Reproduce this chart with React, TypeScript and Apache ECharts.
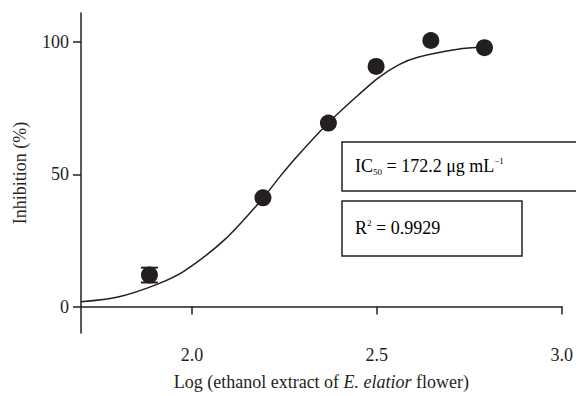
import React, { useEffect, useRef } from "react";
import * as echarts from "echarts";

const pointX = [1.885, 2.192, 2.369, 2.498, 2.646, 2.791];
const pointY = [11.9, 41.1, 69.4, 90.8, 100.6, 97.9];
const errorLow = [9.1, 41.1, 69.4, 90.8, 100.6, 97.9];
const errorHigh = [14.7, 41.1, 69.4, 90.8, 100.6, 97.9];

const curveX = [1.70, 1.80, 1.907, 1.98, 2.09, 2.192, 2.24, 2.289, 2.369, 2.45, 2.504, 2.56, 2.611, 2.719, 2.791];
const curveY = [1.8, 3.6, 8.5, 13.5, 25.5, 41.0, 49.5, 57.5, 69.5, 80.0, 86.5, 91.5, 94.3, 97.3, 98.1];

const xTicks = [2.0, 2.5, 3.0];
const yTicks = [0, 50, 100];

const FONT = "Liberation Serif";
const INK = "#231f20";
const FS = 18;

export default function App() {
  const ref = useRef<HTMLDivElement>(null);
  useEffect(() => {
    if (!ref.current) return;
    const chart = echarts.init(ref.current, undefined, { renderer: "svg" });
    const errData = pointX
      .map((x, i) => [x, errorLow[i], errorHigh[i]])
      .filter((d) => d[2] - d[1] > 0.01);
    chart.setOption({
      animation: false,
      backgroundColor: "#ffffff",
      textStyle: { fontFamily: FONT },
      grid: { left: 81, right: 12, top: 13, bottom: 62, containLabel: false },
      xAxis: {
        type: "value",
        min: 1.7,
        max: 3.0,
        name: "Log (ethanol extract of {i|E. elatior} flower)",
        nameLocation: "middle",
        nameGap: 40,
        nameTextStyle: {
          fontFamily: FONT,
          fontSize: FS,
          color: INK,
          rich: { i: { fontFamily: FONT, fontSize: FS, fontStyle: "italic", color: INK } },
        },
        axisLine: { show: true, lineStyle: { color: INK, width: 1.5 } },
        axisTick: { show: true, length: 8, customValues: xTicks, lineStyle: { color: INK, width: 1.5 } },
        axisLabel: {
          customValues: xTicks,
          margin: 13,
          fontFamily: FONT,
          fontSize: FS,
          color: INK,
          formatter: (v: number) => v.toFixed(1),
        },
        splitLine: { show: false },
      },
      yAxis: {
        type: "value",
        min: -10,
        max: 111,
        name: "Inhibition (%)",
        nameLocation: "middle",
        nameGap: 52,
        nameTextStyle: { fontFamily: FONT, fontSize: FS, color: INK },
        axisLine: { show: true, lineStyle: { color: INK, width: 1.5 } },
        axisTick: { show: true, length: 8, customValues: yTicks, lineStyle: { color: INK, width: 1.5 } },
        axisLabel: { customValues: yTicks, margin: 12, fontFamily: FONT, fontSize: FS, color: INK },
        splitLine: { show: false },
      },
      series: [
        {
          type: "line",
          data: curveX.map((x, i) => [x, curveY[i]]),
          smooth: 0.3,
          symbol: "none",
          lineStyle: { color: INK, width: 1.5 },
          z: 2,
        },
        {
          type: "custom",
          data: errData,
          z: 3,
          renderItem: (params: any, api: any) => {
            const x = api.value(0);
            const lo = api.coord([x, api.value(1)]);
            const hi = api.coord([x, api.value(2)]);
            const hw = 8.5;
            const st = { stroke: INK, lineWidth: 2 };
            return {
              type: "group",
              children: [
                { type: "line", shape: { x1: lo[0], y1: lo[1], x2: hi[0], y2: hi[1] }, style: st },
                { type: "line", shape: { x1: lo[0] - hw, y1: lo[1], x2: lo[0] + hw, y2: lo[1] }, style: st },
                { type: "line", shape: { x1: hi[0] - hw, y1: hi[1], x2: hi[0] + hw, y2: hi[1] }, style: st },
              ],
            };
          },
        },
        {
          type: "scatter",
          data: pointX.map((x, i) => [x, pointY[i]]),
          symbol: "circle",
          symbolSize: 17,
          itemStyle: { color: INK, opacity: 1 },
          z: 4,
        },
      ],
      graphic: [
        {
          type: "rect",
          shape: { x: 342, y: 142, width: 250, height: 49 },
          style: { fill: "#ffffff", stroke: INK, lineWidth: 1.5 },
          z: 10,
        },
        {
          type: "text",
          x: 355,
          y: 166,
          z: 11,
          style: {
            text: "{m|IC}{s|50}{m| = 172.2 μg mL}{p|−1}",
            verticalAlign: "middle",
            rich: {
              m: { fontFamily: FONT, fontSize: FS, color: INK, lineHeight: 20 },
              s: { fontFamily: FONT, fontSize: 9, color: INK, verticalAlign: "bottom", lineHeight: 20 },
              p: { fontFamily: FONT, fontSize: 9, color: INK, verticalAlign: "top", lineHeight: 20 },
            },
          },
        },
        {
          type: "rect",
          shape: { x: 342, y: 201, width: 180, height: 55 },
          style: { fill: "#ffffff", stroke: INK, lineWidth: 1.5 },
          z: 10,
        },
        {
          type: "text",
          x: 355,
          y: 228,
          z: 11,
          style: {
            text: "{m|R}{p|2}{m| = 0.9929}",
            verticalAlign: "middle",
            rich: {
              m: { fontFamily: FONT, fontSize: FS, color: INK, lineHeight: 20 },
              p: { fontFamily: FONT, fontSize: 9, color: INK, verticalAlign: "top", lineHeight: 20 },
            },
          },
        },
      ],
    });
    return () => chart.dispose();
  }, []);
  return <div ref={ref} style={{ width: 576, height: 396, position: "absolute", left: 0, top: 0 }} />;
}
